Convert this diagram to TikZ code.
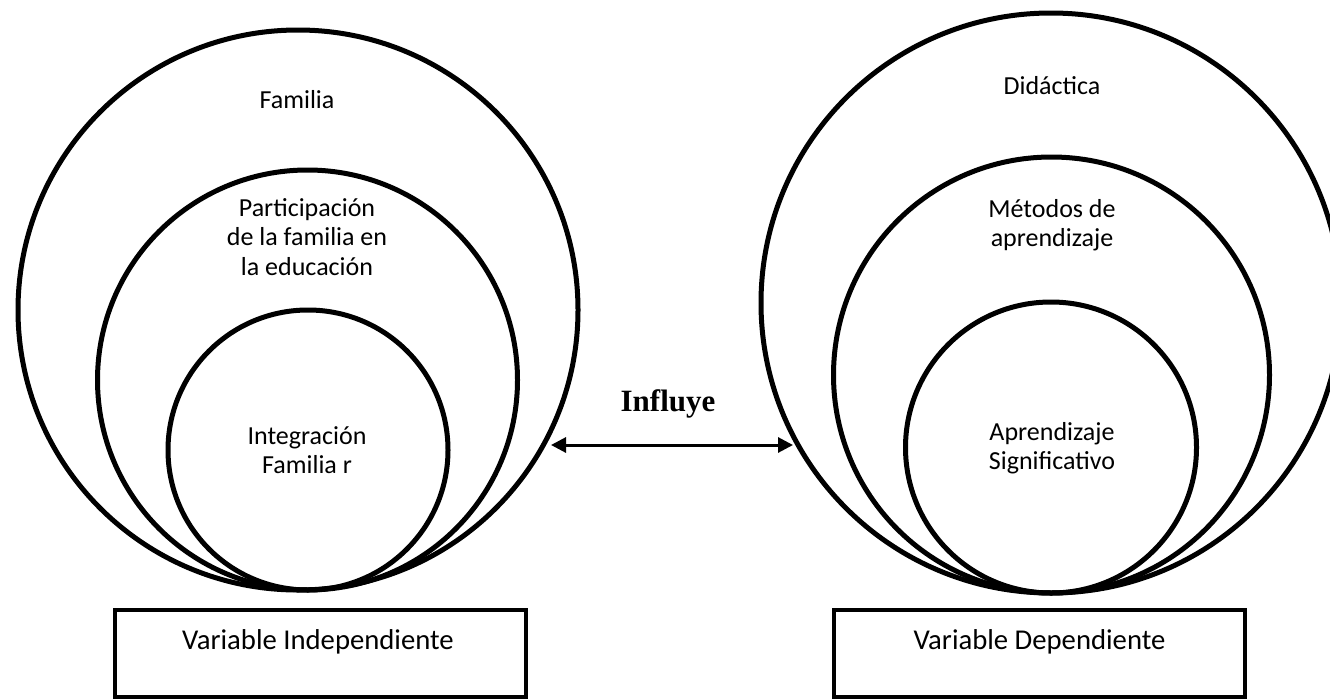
\documentclass[tikz,border=0pt]{standalone}
\usepackage{fontspec}
\setmainfont{Carlito}
\newfontfamily\serifbold{Liberation Serif}
\usetikzlibrary{arrows.meta}
\begin{document}
\begin{tikzpicture}[x=1pt,y=-1pt,
  ring/.style={circle, draw, line width=5pt, inner sep=0pt, outer sep=0pt},
  lbl/.style={align=center, font=\fontsize{26}{29.5}\selectfont, inner sep=0pt},
  boxlbl/.style={font=\fontsize{28.7}{32}\selectfont, inner sep=0pt},
  varbox/.style={draw, line width=4pt, inner sep=0pt, minimum width=411pt, minimum height=87pt},
  link/.style={line width=3pt, {Triangle[length=15pt,width=15pt]}-{Triangle[length=15pt,width=15pt]}}]
\useasboundingbox (0,0) rectangle (1330,699);
\clip (0,0) rectangle (1330,699);
% left set
\node[ring, minimum size=560pt] (famO) at (298,310) {};
\node[ring, minimum size=420pt] (famM) at (307.5,380) {};
\node[ring, minimum size=280pt] (famI) at (308,450) {};
\node[lbl] (tFam) at (297,100) {Familia};
\node[lbl] (tPart) at (307,237) {Participación\\de la familia en\\la educación};
\node[lbl] (tInt) at (307,450) {Integración\\Familia r};
% right set
\node[ring, minimum size=580pt] (didO) at (1051,303) {};
\node[ring, minimum size=436pt] (didM) at (1051.5,375) {};
\node[ring, minimum size=291pt] (didI) at (1051,447.5) {};
\node[lbl] (tDid) at (1052,86) {Didáctica};
\node[lbl] (tMet) at (1052,225) {Métodos de\\aprendizaje};
\node[lbl] (tApr) at (1052,448) {Aprendizaje\\Significativo};
% boxes
\node[varbox] (bInd) at (320.5,653.5) {};
\node[boxlbl] (tInd) at (318,642) {Variable Independiente};
\node[varbox] (bDep) at (1039,653.5) {};
\node[boxlbl] (tDep) at (1039.5,642) {Variable Dependiente};
% arrow
\coordinate (la) at (551,445);
\coordinate (ra) at (793,445);
\draw[link] (la) -- (ra);
\node[font=\serifbold\bfseries\fontsize{31}{35}\selectfont, inner sep=0pt] (tInf) at (668,404) {Influye};
\end{tikzpicture}
\end{document}
